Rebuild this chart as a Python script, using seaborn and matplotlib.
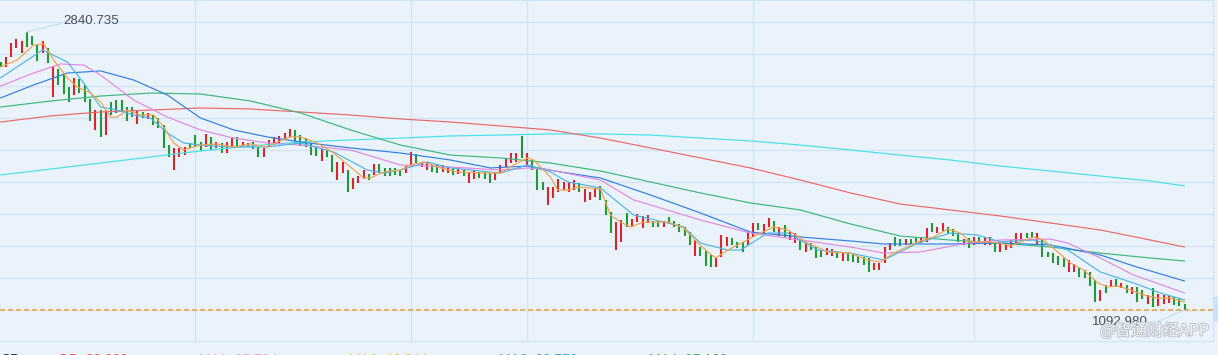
import matplotlib
matplotlib.use("Agg")
import matplotlib.pyplot as plt
import matplotlib.patheffects as pe
from matplotlib.patches import Rectangle
import pandas as pd
import seaborn as sns

# ---------------------------
# Candles: high / low per bar, and direction (r = up, g = down)
# ---------------------------
highs = [
    2652, 2684, 2772, 2796, 2785, 2840.735, 2815, 2760, 2785, 2741,
    2621, 2608, 2577, 2495, 2552, 2546, 2508, 2419, 2350, 2350,
    2350, 2400, 2413, 2413, 2369, 2369, 2350, 2338, 2331, 2319,
    2300, 2257, 2131, 2112, 2112, 2118, 2143, 2194, 2150, 2200,
    2181, 2150, 2143, 2150, 2181, 2181, 2150, 2143, 2150, 2118,
    2112, 2162, 2181, 2187, 2206, 2231, 2225, 2194,
    2175, 2143, 2118, 2105, 2099, 2068, 2023, 2023, 1973, 1923,
    1935, 1973, 1948, 2011, 2011, 1986, 1986, 1986, 1973, 1998,
    2086, 2074, 2023, 2023, 2005, 2005, 2005, 1992, 1986, 1986,
    1973, 1954, 1973, 1960, 1960, 1954, 1960, 2005, 2049, 2080,
    2080, 2187, 2080, 2036, 1992, 1897, 1866, 1866, 1916, 1897,
    1897, 1910, 1891, 1853, 1834, 1860, 1872, 1785, 1709, 1646,
    1659, 1703, 1665, 1697, 1684, 1691, 1653, 1653, 1653, 1678,
    1653, 1634, 1615, 1584, 1533, 1489, 1464, 1439, 1426, 1565,
    1552, 1546, 1520, 1520, 1577, 1640, 1640, 1634, 1672, 1653,
    1615, 1628, 1584, 1577, 1533, 1514, 1514, 1489, 1470, 1483,
    1476, 1457, 1457, 1451, 1445, 1432, 1426, 1420, 1388, 1388,
    1489, 1514, 1552, 1539, 1539, 1539, 1546, 1552, 1608, 1640,
    1615, 1640, 1615, 1603, 1577, 1539, 1546, 1552, 1552, 1552,
    1552, 1514, 1514, 1514, 1533, 1577, 1577, 1577, 1584, 1577,
    1533, 1457, 1451, 1432, 1420, 1407, 1382, 1357, 1344, 1332,
    1282, 1219, 1250, 1282, 1288, 1263, 1250, 1238, 1238, 1219,
    1187, 1231, 1194, 1187, 1181, 1175, 1162, 1130,
]
lows = [
    2621, 2621, 2684, 2741, 2709, 2747, 2760, 2659, 2709, 2646,
    2432, 2508, 2451, 2400, 2445, 2457, 2400, 2282, 2225, 2181,
    2194, 2319, 2331, 2338, 2282, 2306, 2263, 2300, 2294, 2257,
    2238, 2112, 2055, 1973, 2055, 2068, 2112, 2118, 2093, 2118,
    2099, 2112, 2080, 2080, 2118, 2124, 2118, 2118, 2105, 2055,
    2055, 2118, 2131, 2143, 2162, 2181, 2156, 2124,
    2118, 2068, 2061, 2030, 2055, 1960, 1910, 1954, 1834, 1853,
    1891, 1916, 1910, 1942, 1954, 1935, 1935, 1942, 1935, 1954,
    1992, 2017, 1992, 1973, 1960, 1954, 1960, 1954, 1942, 1948,
    1935, 1891, 1916, 1923, 1916, 1891, 1910, 1954, 1992, 2017,
    2023, 2049, 2005, 1973, 1847, 1847, 1754, 1797, 1834, 1847,
    1834, 1847, 1834, 1772, 1785, 1803, 1785, 1691, 1577, 1470,
    1520, 1615, 1615, 1646, 1608, 1640, 1615, 1615, 1615, 1634,
    1615, 1584, 1558, 1502, 1432, 1432, 1369, 1363, 1363, 1426,
    1495, 1502, 1483, 1457, 1502, 1552, 1596, 1577, 1615, 1584,
    1558, 1552, 1533, 1514, 1470, 1457, 1470, 1420, 1426, 1439,
    1432, 1420, 1401, 1401, 1395, 1388, 1376, 1332, 1344, 1344,
    1388, 1470, 1495, 1495, 1502, 1508, 1508, 1514, 1520, 1584,
    1577, 1590, 1577, 1558, 1520, 1502, 1483, 1502, 1508, 1502,
    1502, 1457, 1457, 1470, 1483, 1514, 1533, 1546, 1546, 1508,
    1426, 1426, 1388, 1376, 1363, 1332, 1332, 1300, 1294, 1244,
    1143, 1149, 1200, 1238, 1238, 1231, 1200, 1194, 1143, 1162,
    1130, 1111, 1118, 1130, 1137, 1124, 1118, 1092.98,
]
directions = list(
    "grrrrgggrg" "rgggrgggrg" "rgggggrgrg" "gggrrrgggr" "grgrrgrrgg" "rrrrrrgg"
    "gggrggrrgr" "rrgrgggggr" "rgrrggrrgr" "grrgggrrrr" "rgrgggrrrr" "rrgrrrgggr"
    "rgrrrrggrg" "ggggrgggrr" "rgggrrgrrg" "rgrrgrgggr" "rgrgggggrr" "rrggrggrrg"
    "rrgggrgrgr" "rgrrrrrggr" "gggggrrggg" "grgrgrgrgg" "rgrrrggg"
)

# ---------------------------
# Moving averages (bar index, price)
# ---------------------------
ma5_x = [0, 3.2, 6.3, 8.2, 10.1, 12.7, 14.6, 17.1, 19.0, 20.9, 22.2, 24.1, 26.6, 29.1, 31.0,
         32.9, 34.8, 38.0, 41.2, 44.3, 47.5, 50.7, 52.6, 55.1, 57.0, 60.2, 63.3, 66.5, 69.0, 70.3,
         72.8, 76.0, 77.9, 80.4, 83.6, 86.8, 91.8, 95.0, 97.5, 100.2, 101.3, 104.5, 105.9, 107.8, 109.7,
         112.1, 114.0, 115.9, 117.8, 119.7, 122.2, 126.8, 129.8, 132.5, 134.4, 135.9, 138.2, 141.2, 144.4, 146.9,
         149.6, 153.4, 157.2, 161.5, 164.8, 167.2, 169.7, 174.3, 177.3, 180.0, 182.4, 184.3, 187.6, 190.0, 191.9,
         193.8, 196.3, 198.2, 200.9, 203.3, 205.8, 208.5, 210.4, 212.3, 214.7, 217.2, 219.9, 222.3, 225.0]
ma5_y = [2621, 2665, 2759, 2765, 2665, 2552, 2495, 2457, 2401, 2306, 2306, 2350, 2319, 2319, 2244,
         2143, 2099, 2130, 2137, 2118, 2137, 2118, 2149, 2181, 2181, 2143, 2080, 1992, 1923, 1923,
         1961, 1973, 2005, 2024, 1986, 1961, 1954, 1954, 2005, 2049, 2036, 1929, 1847, 1847, 1866,
         1860, 1854, 1690, 1646, 1615, 1646, 1646, 1609, 1514, 1458, 1420, 1470, 1521, 1577, 1615,
         1596, 1514, 1458, 1451, 1407, 1395, 1451, 1521, 1552, 1602, 1577, 1521, 1521, 1514, 1495,
         1521, 1552, 1533, 1458, 1389, 1345, 1263, 1238, 1244, 1219, 1187, 1168, 1168, 1143]

ma10_x = [0, 8.0, 12.7, 15.8, 19.0, 22.2, 25.3, 28.5, 31.7, 34.8, 38.0, 44.3, 50.7, 57.0, 63.3,
          69.7, 72.8, 76.0, 81.1, 85.5, 95.0, 100.2, 104.5, 107.8, 114.0, 120.3, 126.8, 129.8, 133.0, 138.2,
          140.6, 145.8, 149.6, 155.3, 161.5, 167.8, 174.3, 180.5, 185.7, 190.0, 196.3, 202.8, 209.0, 215.3, 220.4,
          225.0]
ma10_y = [2552, 2728, 2652, 2520, 2369, 2350, 2319, 2300, 2206, 2143, 2130, 2118, 2118, 2143, 2086,
          1973, 1954, 1973, 2024, 1986, 1954, 2005, 1961, 1898, 1860, 1690, 1640, 1615, 1514, 1470,
          1470, 1577, 1577, 1470, 1451, 1407, 1514, 1577, 1564, 1521, 1533, 1470, 1332, 1263, 1200,
          1156]

ma20_x = [0, 6.3, 11.4, 15.8, 19.0, 25.3, 31.7, 38.0, 44.3, 50.7, 57.0, 66.5, 76.0, 85.5, 95.0, 100.2,
          104.5, 114.0, 120.3, 133.0, 142.5, 152.0, 161.5, 167.8, 174.8, 183.8, 190.0, 199.5, 202.8, 209.0,
          215.3, 225.0]
ma20_y = [2501, 2583, 2640, 2633, 2570, 2413, 2306, 2225, 2174, 2143, 2130, 2099, 2005, 1992, 1973, 1986,
          1973, 1910, 1785, 1659, 1577, 1533, 1489, 1451, 1458, 1514, 1533, 1539, 1514, 1420,
          1313, 1200]

ma30_x = [0, 6.3, 12.7, 19.0, 25.3, 31.7, 38.0, 44.3, 50.7, 57.0, 66.5, 76.0, 85.5, 93.1, 100.2,
          106.4, 114.0, 123.5, 133.0, 142.5, 152.0, 161.5, 167.8, 180.5, 190.0, 199.5, 209.0, 215.3, 225.0]
ma30_y = [2426, 2508, 2583, 2596, 2539, 2445, 2300, 2225, 2181, 2149, 2112, 2080, 2036, 1986, 1998,
          1961, 1923, 1816, 1703, 1583, 1552, 1527, 1508, 1508, 1514, 1502, 1439, 1370, 1275]

long_x = [0, 9.5, 19, 28.5, 38, 47.5, 57, 66.5, 76, 85.5, 95, 104.5, 114, 123.5, 133,
          142.5, 152, 161.5, 171, 180.5, 190, 199.5, 209, 218.5, 225]
ma60_y = [2369, 2407, 2438, 2457, 2451, 2407, 2332, 2225, 2130, 2067, 2049, 2017, 1967, 1898, 1829,
          1766, 1722, 1634, 1558, 1533, 1514, 1489, 1451, 1420, 1401]
ma120_y = [2275, 2313, 2338, 2350, 2363, 2357, 2338, 2319, 2294, 2275, 2250, 2225, 2174, 2112, 2049,
           1986, 1910, 1829, 1759, 1722, 1684, 1640, 1596, 1533, 1489]
ma250_y = [1942, 1979, 2017, 2055, 2093, 2124, 2149, 2162, 2174, 2187, 2193, 2200, 2200, 2193, 2174,
           2156, 2130, 2099, 2067, 2036, 1998, 1967, 1935, 1904, 1873]

max_price = 2840.735
min_price = 1092.98
max_idx = 5
min_idx = 225
month_starts = [37, 78, 100, 143, 185]

legend_labels = ["CP", "\u25bc", "OP: 29.000", "MA1: 35.724", "MA2: 46.344", "MA3: 60.770", "MA4: 97.162"]
legend_colors = ["#333333", "#9aa3ad", "#f0603c", "#f4a6c8", "#f2c230", "#3fa7e0", "#4caf50"]

ma_colors = {
    "MA250": "#44e2ea",
    "MA120": "#ee6666",
    "MA60": "#3db77a",
    "MA30": "#2f80e0",
    "MA20": "#e487e0",
    "MA10": "#4cb6e8",
    "MA5": "#f5a04c",
}

bg = "#eaf3fc"
grid_c = "#d5e4f2"

# ---------------------------
# Build long frame for the MA lines
# ---------------------------
parts = [
    pd.DataFrame({"idx": long_x, "price": ma250_y, "line": "MA250"}),
    pd.DataFrame({"idx": long_x, "price": ma120_y, "line": "MA120"}),
    pd.DataFrame({"idx": long_x, "price": ma60_y, "line": "MA60"}),
    pd.DataFrame({"idx": ma30_x, "price": ma30_y, "line": "MA30"}),
    pd.DataFrame({"idx": ma20_x, "price": ma20_y, "line": "MA20"}),
    pd.DataFrame({"idx": ma10_x, "price": ma10_y, "line": "MA10"}),
    pd.DataFrame({"idx": ma5_x, "price": ma5_y, "line": "MA5"}),
]
ma_df = pd.concat(parts, ignore_index=True)

candles = pd.DataFrame({"high": highs, "low": lows, "dir": directions})
candles["idx"] = range(len(candles))
candles["color"] = candles["dir"].map({"r": "#d8262c", "g": "#1f9a36"})

# ---------------------------
# Plot
# ---------------------------
sns.set_theme(style="white")
plt.rcParams["font.family"] = ["Liberation Sans", "DejaVu Sans"]

W, H = 1218, 355
fig = plt.figure(figsize=(W / 100, H / 100), dpi=100)
fig.patch.set_facecolor(bg)
ax = fig.add_axes([0, 14 / H, 1213 / W, 341 / H])
ax.set_facecolor(bg)

ax.vlines(candles["idx"], candles["low"], candles["high"], colors=candles["color"], linewidth=1.5, zorder=2)

sns.lineplot(data=ma_df, x="idx", y="price", hue="line", palette=ma_colors, sort=False,
             estimator=None, linewidth=0.85, legend=False, ax=ax, zorder=3)

ax.axhline(min_price, color="#e8a54c", linestyle=(0, (3, 1.8)), linewidth=1.2, zorder=1.5)

# grid
ax.set_xlim(-0.1, 230.4)
ax.set_ylim(898.1, 3042)
ax.set_yticks([min_price + 201.2 * k for k in range(10)])
ax.set_xticks(month_starts)
ax.grid(True, color=grid_c, linewidth=1)
ax.set_axisbelow(True)
ax.tick_params(length=0, labelbottom=False, labelleft=False)
ax.set_xlabel("")
ax.set_ylabel("")
for s in ax.spines.values():
    s.set_color(grid_c)
    s.set_linewidth(1)
ax.spines["left"].set_visible(False)

# max / min labels
ax.annotate(f"{max_price:.3f}", xy=(max_idx, max_price), xytext=(12.0, 2913),
            ha="left", va="center", fontsize=9.6, color="#4a4f5c",
            arrowprops=dict(arrowstyle="-", color="#c8dbef", lw=0.8, relpos=(0, 0.3),
                            shrinkA=0, shrinkB=0))
ax.annotate(f"{min_price:.3f}", xy=(min_idx, min_price), xytext=(218.0, 1017),
            ha="right", va="center", fontsize=9.6, color="#4a4f5c",
            arrowprops=dict(arrowstyle="-", color="#c8dbef", lw=0.8, relpos=(1, 0.2),
                            shrinkA=0, shrinkB=0))

# bottom legend strip (cut off by the figure edge, as in the source screenshot)
legend_x = [0, 37, 58, 199, 349, 499, 649]
for lx, lab, col in zip(legend_x, legend_labels, legend_colors):
    fig.text(lx / W, (H - 352.5) / H, lab, color=col, fontsize=10, ha="left", va="top")

# watermark
fig.text(1100 / W, (H - 331) / H, "@智通财经APP", fontsize=11.5, color="#f4f7fb",
         family=["Noto Sans CJK SC", "DejaVu Sans"], ha="left", va="center",
         path_effects=[pe.withStroke(linewidth=1.3, foreground="#b9c2cc")])

# scrollbar stub at the right edge
fig.patches.append(Rectangle((1213 / W, (H - 320) / H), 5 / W, 23 / H,
                             transform=fig.transFigure, color="#cfe0f7", zorder=5))

fig.savefig("out.png", dpi=100, facecolor=bg)
